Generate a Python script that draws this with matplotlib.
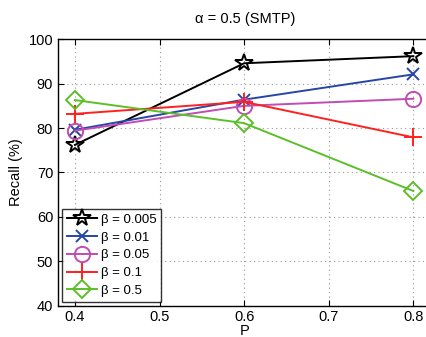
import matplotlib
matplotlib.use("Agg")
import matplotlib.pyplot as plt

plt.rcParams['font.family'] = ['Liberation Sans', 'DejaVu Sans']

P = [0.4, 0.6, 0.8]
labels = ['β = 0.005', 'β = 0.01', 'β = 0.05', 'β = 0.1', 'β = 0.5']
recall = [
    [76.2, 94.6, 96.2],
    [79.6, 86.4, 92.1],
    [79.4, 85.0, 86.6],
    [83.2, 85.9, 77.9],
    [86.3, 81.1, 65.8],
]
colors = ['#000000', '#2646a8', '#c04cb4', '#ff2020', '#5cbf2a']
markers = ['*', 'x', 'o', '+', 'D']
msizes = [13, 9, 11, 13, 9]

fig = plt.figure(figsize=(4.27, 3.37), dpi=100)
ax = fig.add_axes([58/427, 31.5/337, 374/427, 266.2/337])

for y, lab, c, m, ms in zip(recall, labels, colors, markers, msizes):
    ax.plot(P, y, color=c, marker=m, markersize=ms, markerfacecolor='none',
            markeredgecolor=c, markeredgewidth=1.4, linewidth=1.4, label=lab)

ax.set_xlim(0.38, 0.822)
ax.set_ylim(40, 100)
ax.set_xticks([0.4, 0.5, 0.6, 0.7, 0.8])
ax.set_yticks([40, 50, 60, 70, 80, 90, 100])
ax.grid(True, linestyle=(0, (1, 3)), color='#999999', linewidth=0.8)
ax.tick_params(direction='in', top=True, right=True, labelsize=10.5, length=4)
ax.set_xlabel('P', fontsize=10.5, labelpad=0)
ax.set_ylabel('Recall (%)', fontsize=10.5)
ax.set_title('α = 0.5 (SMTP)', fontsize=10.5, pad=12)
for s in ax.spines.values():
    s.set_linewidth(1.0)

leg = ax.legend(loc='lower left', fontsize=9.5, frameon=True, fancybox=False,
                edgecolor='black', handlelength=2.3, handletextpad=0.3,
                labelspacing=0.42, borderpad=0.35, borderaxespad=0.3)
leg.get_frame().set_linewidth(1.0)

fig.savefig('out.png', dpi=100)
